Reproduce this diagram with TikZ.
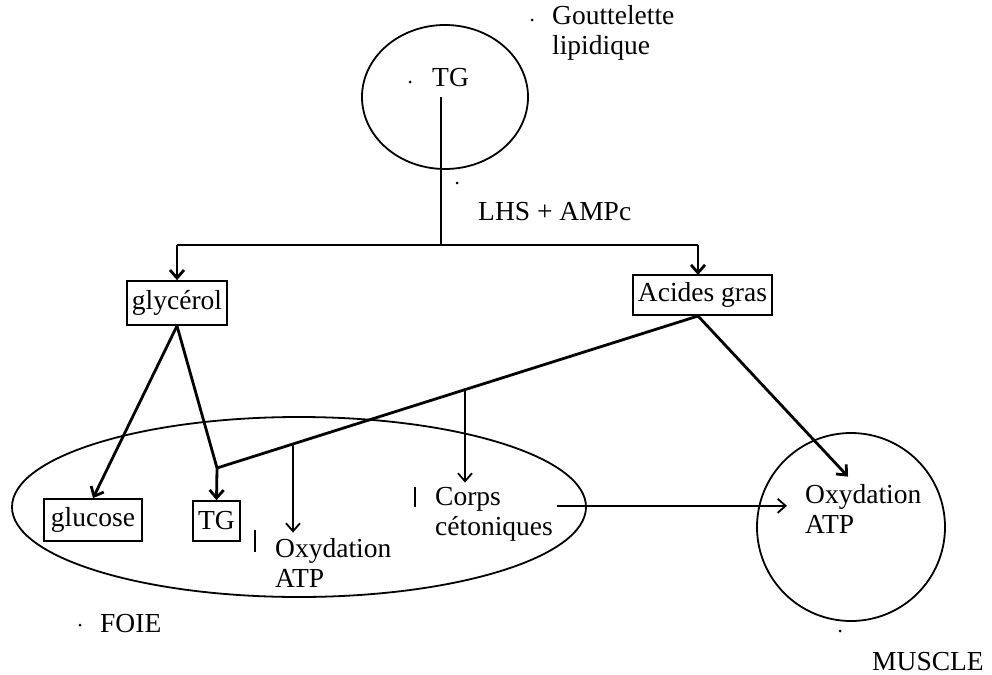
\documentclass[tikz,border=0pt]{standalone}
\usepackage{fontspec}
\setmainfont{Liberation Serif}
\usetikzlibrary{arrows.meta,shapes.geometric,calc}
\begin{document}
\begin{tikzpicture}[x=1pt,y=-1pt,
  every node/.style={font=\fontsize{27.5}{30}\selectfont, inner sep=0pt},
  boxnode/.style={draw, line width=1.7pt},
  txt/.style={align=left, anchor=north west},
  thickline/.style={line width=2.8pt},
  thinline/.style={line width=1.8pt},
  arr/.style={-{Straight Barb[length=8pt,width=14pt]}},
  dotmark/.style={circle, fill, minimum size=3pt, inner sep=0pt},
  tickmark/.style={line width=1.8pt}
]
\useasboundingbox (0,0) rectangle (992,674);

% organelle / organ outlines
\node[ellipse, draw, thinline, minimum width=166pt, minimum height=144pt] (drop) at (445,97) {};
\node[ellipse, draw, thinline, minimum width=574pt, minimum height=180pt] (foie) at (299,507) {};
\node[circle, draw, thinline, minimum size=188pt] (muscle) at (851,527) {};

% texts
\node[anchor=base west] (tgd) at (432,87) {TG};
\node[txt] (gout) at (552,5) {Gouttelette\\lipidique};
\node[anchor=base west] (lhs) at (478,220) {LHS + AMPc};
\node[anchor=base west] (foielbl) at (100,632) {FOIE};
\node[anchor=base west] (musclelbl) at (872,670) {MUSCLE};

% boxes
\node[boxnode, minimum width=100pt, minimum height=44pt] (gly) at (177,303) {glycérol};
\node[boxnode, minimum width=139pt, minimum height=40pt] (ag) at (702.5,295) {Acides gras};
\node[boxnode, minimum width=98pt, minimum height=42pt] (glu) at (93,520) {glucose};
\node[boxnode, minimum width=47pt, minimum height=40pt] (tgl) at (216.5,521) {TG};

% liver / muscle texts
\node[txt] (oxl) at (275,538.6) {Oxydation\\ATP};
\node[txt] (cc) at (435,486.6) {Corps\\cétoniques};
\node[txt] (mox) at (805,484.6) {Oxydation\\ATP};

% small marks
\node[dotmark] (d1) at (410,82) {};
\node[dotmark] (d2) at (457,183) {};
\node[dotmark] (d3) at (532,20) {};
\node[dotmark] (d4) at (80,625) {};
\node[dotmark] (d5) at (840,631) {};
\draw[tickmark] (255,530) -- (255,552);
\draw[tickmark] (415,487) -- (415,507);

% coordinates
\coordinate (tgfoot) at (441,97);
\coordinate (split) at (441,245);
\coordinate (agtop) at (698,275);
\coordinate (agb) at (698,316);
\coordinate (junc) at (217,468);
\coordinate (b1) at ($(junc)!0.158!(agb)$);
\coordinate (b2) at ($(junc)!0.5156!(agb)$);
\coordinate (oxtip) at ([yshift=6pt]oxl.north);
\coordinate (cctip) at ([yshift=4pt]cc.north);
\coordinate (ccout) at ([xshift=4pt,yshift=8pt]cc.east);
\coordinate (mtip) at ([xshift=-18pt,yshift=-20pt]mox.north west);
\coordinate (agmtip) at ([xshift=43pt,yshift=8pt]mox.north west);

% connectors
\draw[thickline] (tgfoot) -- (split);
\draw[thickline] (gly.north |- split) -- (agtop |- split);
\draw[thickline,arr] (gly.north |- split) -- (gly.north);
\draw[thickline,arr] (agtop |- split) -- (agtop);
\draw[thickline,arr] (gly.south) -- (glu.north);
\draw[thickline,arr] (gly.south) -- (junc) -- (tgl.north);
\draw[thickline] (agb) -- (junc);
\draw[thinline,arr] (b1) -- (b1 |- oxtip);
\draw[thinline,arr] (b2) -- (b2 |- cctip);
\draw[thickline,arr] (agb) -- (agmtip);
\draw[thinline,arr] (ccout) -- (ccout -| mtip);
\end{tikzpicture}
\end{document}
